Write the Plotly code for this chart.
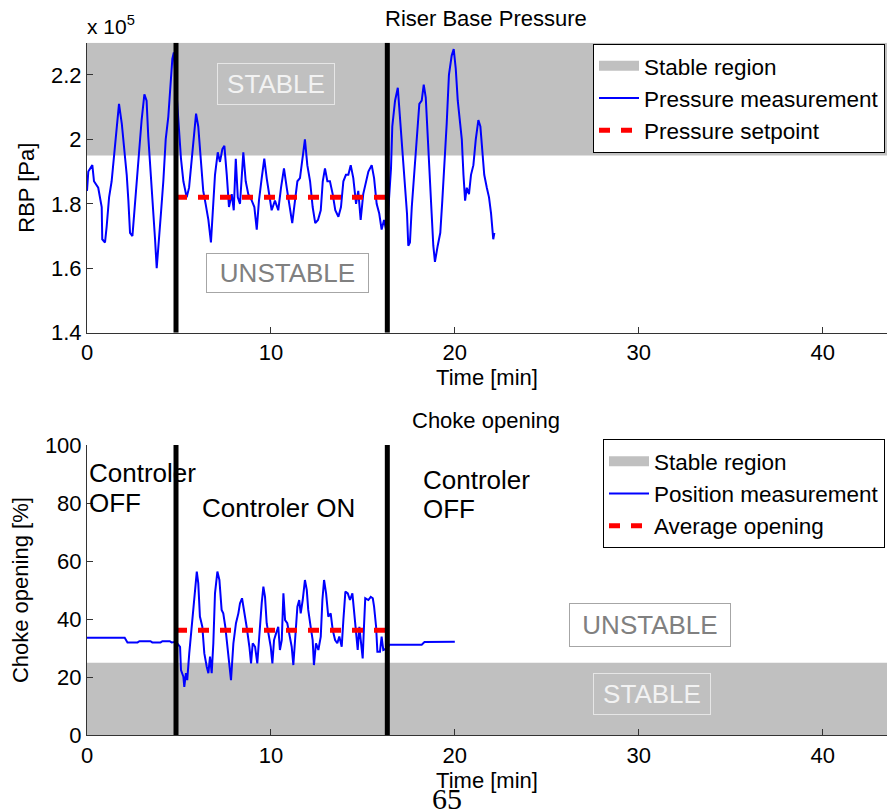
import plotly.graph_objects as go

# ---------------- data ----------------
# Riser base pressure (units of 1e5 Pa) vs time [min]
time_p = [0.00,0.07,0.29,0.38,0.61,0.80,0.83,0.98,1.07,1.20,1.34,1.49,1.61,1.74,1.89,2.03,2.16,2.25,2.34,2.47,
          2.61,2.76,2.85,2.97,3.12,3.24,3.33,3.48,3.61,3.70,3.79,3.88,4.02,4.15,4.28,4.42,4.51,4.64,4.72,4.97,
          5.11,5.24,5.42,5.55,5.66,5.78,5.93,6.05,6.20,6.32,6.45,6.60,6.74,6.87,6.96,7.11,7.23,7.36,7.47,7.60,
          7.72,7.87,7.98,8.09,8.20,8.32,8.50,8.63,8.77,8.96,9.10,9.23,9.35,9.50,9.64,9.77,9.90,10.04,10.22,10.40,
          10.55,10.71,10.86,11.04,11.16,11.31,11.44,11.58,11.73,11.85,11.98,12.13,12.27,12.41,12.56,12.71,12.82,12.94,13.07,13.21,
          13.36,13.50,13.67,13.81,13.94,14.08,14.21,14.34,14.48,14.63,14.75,14.88,15.02,15.17,15.30,15.48,15.61,15.75,15.89,16.02,
          16.15,16.30,16.45,16.53,16.60,16.75,16.90,17.00,17.11,17.20,17.29,17.40,17.47,17.56,17.66,17.80,17.93,18.07,18.20,18.31,
          18.42,18.53,18.65,18.74,18.83,18.92,19.07,19.21,19.32,19.43,19.56,19.68,19.83,19.94,20.05,20.16,20.28,20.38,20.47,20.56,
          20.65,20.77,20.88,21.01,21.14,21.28,21.39,21.50,21.60,21.74,21.86,21.97,22.04,22.09,22.15]
pressure = [1.84,1.90,1.92,1.87,1.85,1.79,1.69,1.68,1.73,1.82,1.87,1.97,2.04,2.11,2.05,1.97,1.89,1.81,1.71,1.70,
            1.80,1.91,2.00,2.06,2.14,2.12,2.01,1.89,1.77,1.69,1.60,1.66,1.77,1.87,2.00,2.07,2.16,2.25,2.27,2.07,
            1.94,1.87,1.82,1.85,1.92,2.00,2.08,2.04,1.94,1.84,1.80,1.75,1.68,1.79,1.89,1.96,1.93,1.97,1.98,1.89,
            1.79,1.83,1.78,1.94,1.82,1.80,1.96,1.87,1.83,1.81,1.79,1.72,1.81,1.88,1.94,1.88,1.83,1.78,1.81,1.78,
            1.85,1.91,1.85,1.79,1.74,1.81,1.87,1.88,1.95,2.00,1.92,1.87,1.79,1.74,1.75,1.78,1.87,1.91,1.87,1.87,
            1.83,1.78,1.76,1.79,1.87,1.89,1.89,1.92,1.88,1.80,1.84,1.75,1.83,1.87,1.90,1.92,1.88,1.80,1.77,1.72,
            1.75,1.71,1.83,1.91,2.04,2.12,2.16,2.08,1.97,1.91,1.85,1.77,1.67,1.68,1.79,1.91,2.02,2.11,2.12,2.17,
            2.13,2.02,1.87,1.77,1.67,1.62,1.67,1.71,1.81,1.91,2.05,2.20,2.26,2.28,2.22,2.12,2.05,2.00,1.89,1.81,
            1.85,1.83,1.89,1.92,2.00,2.06,2.04,1.96,1.89,1.85,1.82,1.77,1.73,1.69,1.71]
pressure_setpoint = 1.82

# Choke opening [%] vs time [min]
time_c = [0,2.05,2.2,2.75,2.85,3.45,3.55,4.0,4.1,4.5,4.6,4.84,5.06,5.11,5.24,5.29,5.38,5.45,5.56,5.69,
          5.78,5.87,5.97,6.05,6.14,6.27,6.38,6.51,6.60,6.69,6.78,6.87,6.96,7.09,7.20,7.32,7.41,7.52,7.63,7.74,
          7.83,7.96,8.10,8.23,8.32,8.43,8.54,8.68,8.83,8.92,9.01,9.14,9.26,9.37,9.50,9.59,9.68,9.77,9.88,9.99,
          10.08,10.17,10.28,10.40,10.49,10.59,10.68,10.77,10.89,11.04,11.13,11.22,11.31,11.44,11.54,11.62,11.73,11.85,11.95,12.03,
          12.16,12.27,12.34,12.45,12.58,12.71,12.80,12.89,13.00,13.12,13.25,13.36,13.49,13.61,13.72,13.85,13.94,14.05,14.18,14.30,
          14.43,14.53,14.63,14.72,14.81,14.90,14.99,15.06,15.13,15.30,15.43,15.54,15.61,15.72,15.79,15.93,16.02,16.11,16.33,16.45,
          18.2,18.35,20.0]
choke = [33.6,33.6,32.0,32.0,32.4,32.4,32.0,32.0,32.4,32.4,32.0,32.2,30.5,22.5,20.2,16.7,21.4,19.0,28.2,37.4,
         43.2,51.2,56.4,52.4,40.9,37.4,28.2,23.6,21.4,27.1,21.4,31.7,48.9,56.4,53.5,43.2,42.0,37.4,30.5,23.6,
         19.0,31.7,38.6,42.0,45.5,47.2,43.2,37.4,30.5,24.8,31.7,30.5,24.8,35.1,45.5,51.2,47.7,38.6,35.1,30.5,
         24.8,32.8,35.1,37.4,29.4,32.8,48.9,39.7,38.6,34.0,30.5,24.2,34.0,44.3,46.6,42.0,46.6,53.5,50.1,43.2,
         37.4,32.8,24.2,31.7,29.4,34.0,46.6,53.5,48.9,40.9,42.0,36.3,32.8,31.7,34.0,30.5,39.7,49.5,48.9,46.6,
         48.9,42.0,32.8,29.4,37.4,31.7,26.5,37.4,47.2,46.6,47.7,47.2,44.3,37.4,28.8,28.8,34.0,29.4,30.0,31.2,
         31.2,32.1,32.2]
choke_average = 36.2

assert len(time_p) == len(pressure)
assert len(time_c) == len(choke)

controller_on, controller_off = 4.84, 16.33   # switch times [min]
x_range = [0, 43.5]
p_range = [1.4, 2.3]
c_range = [0, 100]
p_stable = [1.95, 2.3]
c_stable = [0, 25]

x_ticks = [0, 10, 20, 30, 40]
p_ticks = [1.4, 1.6, 1.8, 2.0, 2.2]
p_ticktext = ["1.4", "1.6", "1.8", "2", "2.2"]
c_ticks = [0, 20, 40, 60, 80, 100]

# ---------------- figure ----------------
W, H = 888, 810
FONT = "Liberation Sans, Arial, sans-serif"
GRAY = "#c0c0c0"

def px_x(p):
    return p / W

def px_y(p):
    return 1 - p / H

fig = go.Figure()

def add_panel(xa, ya, leg, t, y, yrange, stable, ref_val, meas_name, ref_name):
    # stable region band (legend entry shown by a wide grey proxy line)
    fig.add_trace(go.Scatter(x=[x_range[0], x_range[1], x_range[1], x_range[0], x_range[0]],
                             y=[stable[0], stable[0], stable[1], stable[1], stable[0]],
                             fill="toself", fillcolor=GRAY, mode="lines", line=dict(width=0, color=GRAY),
                             showlegend=False, xaxis=xa, yaxis=ya, hoverinfo="skip"))
    fig.add_trace(go.Scatter(x=[None], y=[None], mode="lines", line=dict(color=GRAY, width=20),
                             name="Stable region", legend=leg, xaxis=xa, yaxis=ya))
    fig.add_trace(go.Scatter(x=t, y=y, mode="lines", line=dict(color="#0000ff", width=2),
                             name=meas_name, legend=leg, xaxis=xa, yaxis=ya))
    fig.add_trace(go.Scatter(x=[controller_on, controller_off], y=[ref_val] * 2, mode="lines",
                             line=dict(color="#ff0000", width=5, dash="11px,11px"),
                             name=ref_name, legend=leg, xaxis=xa, yaxis=ya))
    for ts in (controller_on, controller_off):
        fig.add_trace(go.Scatter(x=[ts, ts], y=yrange, mode="lines", line=dict(color="black", width=5),
                                 showlegend=False, xaxis=xa, yaxis=ya, hoverinfo="skip"))

add_panel("x", "y", "legend", time_p, pressure, p_range, p_stable, pressure_setpoint,
          "Pressure measurement", "Pressure setpoint")
add_panel("x2", "y2", "legend2", time_c, choke, c_range, c_stable, choke_average,
          "Position measurement", "Average opening")

axis_common = dict(showgrid=False, zeroline=False, showline=True, linecolor="#333333", linewidth=1,
                   ticks="inside", ticklen=6, tickcolor="#333333", tickwidth=1, automargin=False,
                   tickfont=dict(family=FONT, size=22, color="black"), layer="above traces")
title_font = dict(family=FONT, size=22, color="black")
legend_common = dict(x=px_x(885), xanchor="right", yanchor="top", bgcolor="white",
                     bordercolor="black", borderwidth=1, tracegroupgap=0, itemwidth=40,
                     font=dict(family=FONT, size=22.5, color="black"))

x_dom = [px_x(87), px_x(887)]
fig.update_layout(
    width=W, height=H, autosize=False,
    margin=dict(l=0, r=0, t=0, b=0, autoexpand=False),
    paper_bgcolor="white", plot_bgcolor="white",
    font=dict(family=FONT, color="black"),
    xaxis=dict(domain=x_dom, range=x_range, anchor="y", tickvals=x_ticks,
               title=dict(text="Time [min]", font=title_font, standoff=2), **axis_common),
    yaxis=dict(domain=[px_y(332.7), px_y(42.7)], range=p_range, anchor="x",
               tickvals=p_ticks, ticktext=p_ticktext,
               title=dict(text="RBP [Pa]", font=title_font, standoff=10), **axis_common),
    xaxis2=dict(domain=x_dom, range=x_range, anchor="y2", tickvals=x_ticks,
                title=dict(text="Time [min]", font=title_font, standoff=2), **axis_common),
    yaxis2=dict(domain=[px_y(735.3), px_y(445)], range=c_range, anchor="x2", tickvals=c_ticks,
                title=dict(text="Choke opening [%]", font=title_font, standoff=10), **axis_common),
    legend=dict(y=px_y(43.7), **legend_common),
    legend2=dict(y=px_y(439), **legend_common),
    showlegend=True,
)

def note(text, x, y, size=22, color="black", xanchor="center", **kw):
    fig.add_annotation(text=text, x=px_x(x), y=px_y(y), xref="paper", yref="paper",
                       xanchor=xanchor, yanchor="middle", showarrow=False,
                       font=dict(family=FONT, size=size, color=color), **kw)

# titles
note("Riser Base Pressure", 485.5, 18, size=22)
note("Choke opening", 485.5, 421, size=22)
note("x 10<sup>5</sup>", 85, 25, size=21, xanchor="left")

# region labels
note("STABLE", 276, 84, size=26, color="#f2f2f2", bordercolor="#e6e6e6", borderwidth=1,
     borderpad=0, width=116, height=40)
note("UNSTABLE", 287.5, 273, size=26, color="#808080", bordercolor="#a6a6a6", borderwidth=1,
     borderpad=0, width=161, height=38)
note("UNSTABLE", 649.7, 625, size=26, color="#808080", bordercolor="#a6a6a6", borderwidth=1,
     borderpad=0, width=160, height=42)
note("STABLE", 652, 694, size=26, color="#f2f2f2", bordercolor="#e6e6e6", borderwidth=1,
     borderpad=0, width=116, height=40)

# controller state labels
note("Controler", 87, 473, size=26, xanchor="left")
note("OFF", 87, 503, size=26, xanchor="left")
note("Controler ON", 278, 508, size=26)
note("Controler", 421, 480, size=26, xanchor="left")
note("OFF", 421, 509, size=26, xanchor="left")

# page number of the source document
fig.add_annotation(text="65", x=px_x(447), y=px_y(798), xref="paper", yref="paper",
                   xanchor="center", yanchor="middle", showarrow=False,
                   font=dict(family="Liberation Serif, Times New Roman, serif", size=30, color="black"))

fig.write_html("out.html", config={"displayModeBar": False},
               post_script="document.body.style.margin='0px';document.body.style.overflow='hidden';")
